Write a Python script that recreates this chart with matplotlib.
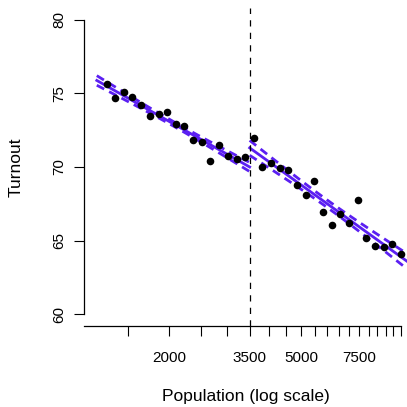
import numpy as np
import matplotlib
matplotlib.use('Agg')
import matplotlib.pyplot as plt
from matplotlib.ticker import FixedLocator, NullLocator

plt.rcParams['font.family'] = ['Liberation Sans', 'DejaVu Sans']

# binned data
population = [1300, 1375, 1460, 1550, 1650, 1750, 1860, 1975, 2100, 2225, 2365, 2510,
              2665, 2830, 3005, 3195, 3390,
              3600, 3825, 4060, 4315, 4580, 4865, 5170, 5490, 5830, 6190, 6575,
              6980, 7415, 7875, 8360, 8880, 9430, 10000]
turnout = [75.65, 74.67, 75.08, 74.76, 74.24, 73.45, 73.59, 73.74, 72.90, 72.79, 71.82, 71.68,
           70.43, 71.50, 70.75, 70.54, 70.70,
           71.97, 70.00, 70.25, 69.95, 69.78, 68.80, 68.12, 69.05, 66.96, 66.03, 66.80,
           66.21, 67.73, 65.19, 64.65, 64.58, 64.74, 64.08]
cutoff = 3500
left_range = [1210, 3500]
right_range = [3500, 10450]
xticks = [1500, 2000, 2500, 3000, 3500, 4000, 4500, 5000, 5500, 6000, 6500,
          7000, 7500, 8000, 8500, 9000, 9500, 10000]
xlabeled = [2000, 3500, 5000, 7500]
yticks = [60, 65, 70, 75, 80]

purple = '#5b1ff2'


def fit_band(x, y, lo, hi, k=1.5):
    # linear fit on log10(population), band = fit +/- k standard errors
    lx = np.log10(x)
    y = np.asarray(y)
    n = len(lx)
    b, a = np.polyfit(lx, y, 1)
    s = np.sqrt(np.sum((y - (a + b * lx)) ** 2) / (n - 2))
    g = np.linspace(np.log10(lo), np.log10(hi), 100)
    fit = a + b * g
    se = s * np.sqrt(1 / n + (g - lx.mean()) ** 2 / np.sum((lx - lx.mean()) ** 2))
    return 10 ** g, fit, fit - k * se, fit + k * se


pop = np.array(population)
tur = np.array(turnout)
left = pop < cutoff

fig = plt.figure(figsize=(4.07, 4.07), dpi=100)
ax = fig.add_axes([84 / 407, 81.2 / 407, 323 / 407, 317.6 / 407])

for mask, rng in [(left, left_range), (~left, right_range)]:
    gx, fit, lo, hi = fit_band(pop[mask], tur[mask], rng[0], rng[1])
    ax.plot(gx, fit, color=purple, lw=2)
    ax.plot(gx, lo, color=purple, lw=2, ls=(0, (3, 2)))
    ax.plot(gx, hi, color=purple, lw=2, ls=(0, (3, 2)))

ax.scatter(pop, tur, s=30, color='black', zorder=3, linewidths=0)
ax.axvline(cutoff, color='black', lw=0.9, ls=(0, (5, 5)))

ax.set_xscale('log')
ax.set_xlim(1107, 10446)
ax.set_ylim(59.2, 80.8)
ax.xaxis.set_major_locator(FixedLocator(xticks))
ax.xaxis.set_minor_locator(NullLocator())
ax.set_xticklabels([str(v) if v in xlabeled else '' for v in xticks])
ax.set_yticks(yticks)
ax.set_yticklabels([str(v) for v in yticks], rotation=90, va='center')

for side in ['top', 'right']:
    ax.spines[side].set_visible(False)
ax.spines['left'].set_bounds(60, 80)
ax.spines['bottom'].set_bounds(1107, 10000)
for side in ['left', 'bottom']:
    ax.spines[side].set_linewidth(0.9)
ax.tick_params(axis='both', length=7.5, width=0.8, labelsize=11)
ax.tick_params(axis='x', pad=11)
ax.tick_params(axis='y', pad=5)

ax.set_xlabel('Population (log scale)', fontsize=12.5, labelpad=17)
ax.set_ylabel('Turnout', fontsize=12.5, labelpad=21)

fig.savefig('out.png', dpi=100)
